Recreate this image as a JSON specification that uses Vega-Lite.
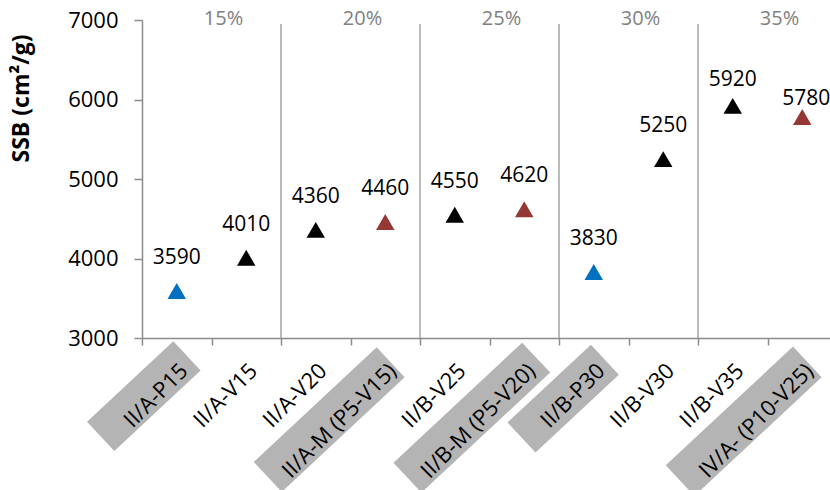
{
  "$schema": "https://vega.github.io/schema/vega-lite/v6.json",
  "width": 688,
  "height": 318,
  "autosize": {"type": "none"},
  "padding": {"left": 142, "top": 20, "right": 0, "bottom": 152},
  "background": "white",
  "config": {"view": {"stroke": null}, "font": "Open Sans"},
  "datasets": {
    "points": [
      {"cat": "II/A-P15", "ssb": 3590, "kind": "P"},
      {"cat": "II/A-V15", "ssb": 4010, "kind": "V"},
      {"cat": "II/A-V20", "ssb": 4360, "kind": "V"},
      {"cat": "II/A-M (P5-V15)", "ssb": 4460, "kind": "M"},
      {"cat": "II/B-V25", "ssb": 4550, "kind": "V"},
      {"cat": "II/B-M (P5-V20)", "ssb": 4620, "kind": "M"},
      {"cat": "II/B-P30", "ssb": 3830, "kind": "P"},
      {"cat": "II/B-V30", "ssb": 5250, "kind": "V"},
      {"cat": "II/B-V35", "ssb": 5920, "kind": "V"},
      {"cat": "IV/A- (P10-V25)", "ssb": 5780, "kind": "M"}
    ],
    "seps": [
      {"cat": "II/A-V20"},
      {"cat": "II/B-V25"},
      {"cat": "II/B-P30"},
      {"cat": "II/B-V35"}
    ],
    "groups": [
      {"cat": "II/A-V15", "pct": "15%"},
      {"cat": "II/A-M (P5-V15)", "pct": "20%"},
      {"cat": "II/B-M (P5-V20)", "pct": "25%"},
      {"cat": "II/B-V30", "pct": "30%"},
      {"cat": "IV/A- (P10-V25)", "pct": "35%"}
    ],
    "boxes": [
      {"cat": "II/A-P15"},
      {"cat": "II/A-M (P5-V15)"},
      {"cat": "II/B-M (P5-V20)"},
      {"cat": "II/B-P30"},
      {"cat": "IV/A- (P10-V25)"}
    ]
  },
  "layer": [
    {
      "data": {"name": "seps"},
      "mark": {"type": "rule", "color": "#a6a6a6", "strokeWidth": 1.5},
      "encoding": {
        "x": {
          "field": "cat", "type": "nominal", "bandPosition": 0,
          "scale": {
            "type": "band",
            "domain": ["II/A-P15", "II/A-V15", "II/A-V20", "II/A-M (P5-V15)", "II/B-V25", "II/B-M (P5-V20)", "II/B-P30", "II/B-V30", "II/B-V35", "IV/A- (P10-V25)"],
            "range": [0, 695],
            "paddingInner": 0,
            "paddingOuter": 0
          },
          "axis": {
            "title": null,
            "tickBand": "extent",
            "labelAngle": -45,
            "labelAlign": "right",
            "labelBaseline": "middle",
            "labelPadding": 22,
            "labelOffset": 7,
            "labelFontSize": 22,
            "labelColor": "black",
            "labelLimit": 0,
            "labelOverlap": false,
            "labelBound": false,
            "tickSize": 7,
            "tickWidth": 1.5,
            "tickColor": "#8c8c8c",
            "domainColor": "#8c8c8c",
            "domainWidth": 1.5,
            "grid": false,
            "zindex": 1
          }
        },
        "y": {
          "datum": 6950, "type": "quantitative",
          "scale": {"domain": [3000, 7000], "nice": false, "zero": false},
          "axis": {
            "title": "SSB (cm²/g)",
            "values": [3000, 4000, 5000, 6000, 7000],
            "format": "d",
            "grid": false,
            "tickSize": 8,
            "tickWidth": 1.5,
            "tickColor": "#8c8c8c",
            "domainColor": "#8c8c8c",
            "domainWidth": 1.5,
            "labelPadding": 16,
            "labelFontSize": 22,
            "labelColor": "black",
            "titleFontSize": 23,
            "titleFontWeight": "bold",
            "titleColor": "black",
            "titleAngle": -90,
            "titleAlign": "center",
            "titleBaseline": "bottom",
            "titleX": -109,
            "titleY": 78
          }
        },
        "y2": {"datum": 3000}
      }
    },
    {
      "data": {"name": "boxes"},
      "mark": {"type": "point", "filled": true, "size": 4, "angle": -43, "xOffset": 7, "yOffset": 29, "color": "#b4b4b4", "opacity": 1, "strokeWidth": 0},
      "encoding": {
        "x": {"field": "cat", "type": "nominal"},
        "y": {"datum": 3000, "type": "quantitative"},
        "shape": {
          "field": "cat", "type": "nominal", "legend": null,
          "scale": {
            "domain": ["II/A-P15", "II/A-M (P5-V15)", "II/B-M (P5-V20)", "II/B-P30", "IV/A- (P10-V25)"],
            "range": [
              "M-108,-26L10,-26L10,14L-108,14Z",
              "M-166,-25L2,-25L2,16L-166,16Z",
              "M-166,-24L10,-24L10,17L-166,17Z",
              "M-106,-23L8,-23L8,18L-106,18Z",
              "M-172,-26L2,-26L2,16L-172,16Z"
            ]
          }
        }
      }
    },
    {
      "data": {"name": "groups"},
      "mark": {"type": "text", "dx": 12, "dy": -1, "baseline": "middle", "fontSize": 20, "color": "#808080"},
      "encoding": {
        "x": {"field": "cat", "type": "nominal", "bandPosition": 0},
        "y": {"datum": 7000, "type": "quantitative"},
        "text": {"field": "pct"}
      }
    },
    {
      "data": {"name": "points"},
      "mark": {"type": "point", "shape": "triangle-up", "filled": true, "size": 340, "opacity": 1},
      "encoding": {
        "x": {"field": "cat", "type": "nominal"},
        "y": {"field": "ssb", "type": "quantitative"},
        "color": {
          "field": "kind", "type": "nominal", "legend": null,
          "scale": {"domain": ["P", "V", "M"], "range": ["#0070c0", "#000000", "#953735"]}
        }
      }
    },
    {
      "data": {"name": "points"},
      "transform": [{"filter": "datum.cat != 'II/B-V35' && datum.cat != 'IV/A- (P10-V25)'"}],
      "mark": {"type": "text", "dy": -27, "baseline": "alphabetic", "fontSize": 21, "color": "black"},
      "encoding": {
        "x": {"field": "cat", "type": "nominal"},
        "y": {"field": "ssb", "type": "quantitative"},
        "text": {"field": "ssb", "type": "quantitative", "format": "d"}
      }
    },
    {
      "data": {"name": "points"},
      "transform": [{"filter": "datum.cat == 'II/B-V35'"}],
      "mark": {"type": "text", "dy": -20, "baseline": "alphabetic", "fontSize": 21, "color": "black"},
      "encoding": {
        "x": {"field": "cat", "type": "nominal"},
        "y": {"field": "ssb", "type": "quantitative"},
        "text": {"field": "ssb", "type": "quantitative", "format": "d"}
      }
    },
    {
      "data": {"name": "points"},
      "transform": [{"filter": "datum.cat == 'IV/A- (P10-V25)'"}],
      "mark": {"type": "text", "dy": -12, "dx": 4, "baseline": "alphabetic", "fontSize": 21, "color": "black"},
      "encoding": {
        "x": {"field": "cat", "type": "nominal"},
        "y": {"field": "ssb", "type": "quantitative"},
        "text": {"field": "ssb", "type": "quantitative", "format": "d"}
      }
    }
  ]
}
